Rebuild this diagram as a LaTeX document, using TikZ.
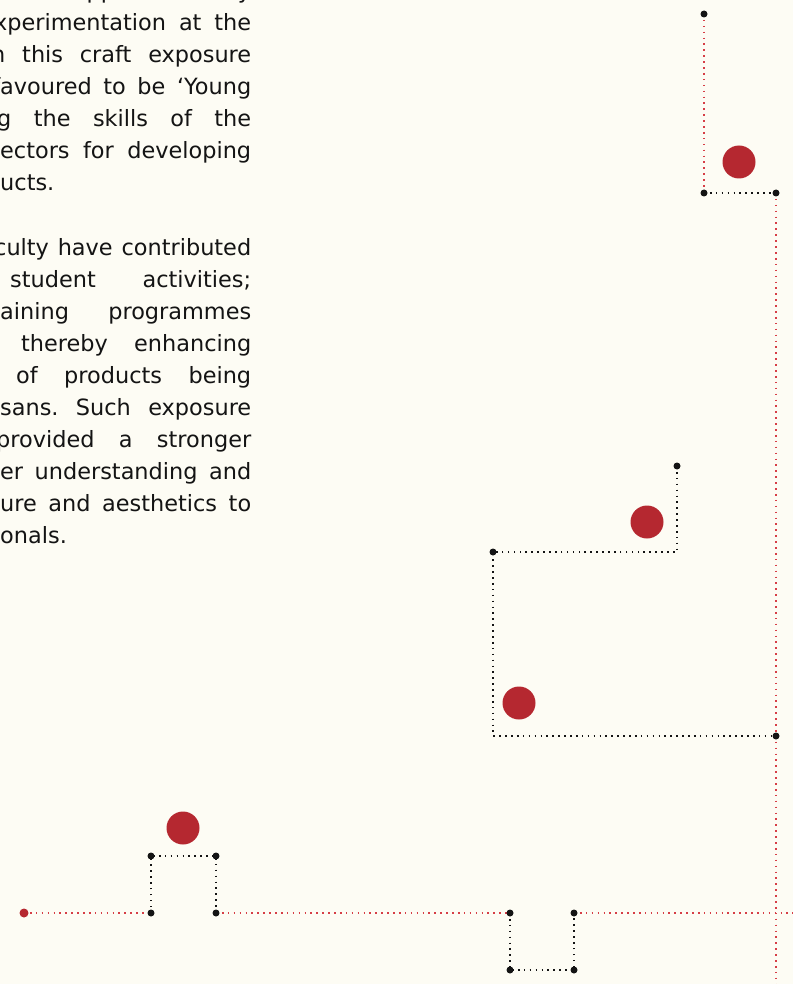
\documentclass[tikz,border=0pt]{standalone}
\usepackage{fontspec}
\setmainfont{DejaVu Sans}
\usetikzlibrary{backgrounds}
\definecolor{paper}{RGB}{253,252,244}
\definecolor{ink}{RGB}{20,20,20}
\definecolor{berry}{RGB}{181,40,48}
\definecolor{thread}{RGB}{214,62,70}
\frenchspacing
\begin{document}
\begin{tikzpicture}[x=1pt, y=-1pt,
    txt/.style={anchor=base west, inner sep=0pt, text=ink, font=\fontsize{22.4}{32}\selectfont},
    dot/.style={circle, fill=ink, inner sep=0pt, minimum size=7pt},
    reddot/.style={circle, fill=berry, inner sep=0pt, minimum size=9pt},
    bead/.style={circle, fill=berry, inner sep=0pt, minimum size=33pt},
    redline/.style={thread, line width=1.6pt, dash pattern=on 1.6pt off 4.3pt},
    blackline/.style={ink, line width=1.6pt, dash pattern=on 1.6pt off 4.3pt}]
    \useasboundingbox (0,0) rectangle (793,984);

    % text column, cut at the left edge
    \begin{scope}
    \clip (0,0) rectangle (793,984);
    \node[txt] (p0) at (0,-1) {\makebox[251pt][s]{\llap{wa}s supported by}};
    \node[txt] (p1a) at (-6,31) {\makebox[257pt][s]{\llap{e}xperimentation at the}};
    \node[txt] (p1b) at (-9,63) {\makebox[260pt][s]{n this craft exposure}};
    \node[txt] (p1c) at (0,95) {\makebox[251pt][s]{\llap{f}avoured to be `Young}};
    \node[txt] (p1d) at (-3,127) {\makebox[254pt][s]{g the skills of the}};
    \node[txt] (p1e) at (0,159) {\makebox[251pt][s]{\llap{s}ectors for developing}};
    \node[txt] (p1f) at (0,191) {\llap{prod}ucts.};

    \node[txt] (p2a) at (-6,255) {\makebox[257pt][s]{\llap{fa}culty have contributed}};
    \node[txt] (p2b) at (10,287) {\makebox[241pt][s]{student activities;}};
    \node[txt] (p2c) at (0,319) {\makebox[251pt][s]{\llap{tr}aining programmes}};
    \node[txt] (p2d) at (21,351) {\makebox[230pt][s]{thereby enhancing}};
    \node[txt] (p2e) at (16,383) {\makebox[235pt][s]{of products being}};
    \node[txt] (p2f) at (0,415) {\makebox[251pt][s]{\llap{arti}sans. Such exposure}};
    \node[txt] (p2g) at (-4,447) {\makebox[255pt][s]{provided a stronger}};
    \node[txt] (p2h) at (0,479) {\makebox[251pt][s]{\llap{bett}er understanding and}};
    \node[txt] (p2i) at (0,511) {\makebox[251pt][s]{\llap{cult}ure and aesthetics to}};
    \node[txt] (p2j) at (0,543) {\llap{professi}onals.};
    \end{scope}

    % top right
    \node[dot] (t1) at (704,14) {};
    \node[dot] (t2) at (704,193) {};
    \node[dot] (t3) at (776,193) {};
    \coordinate (tend) at (776,984);
    \node[bead] (bt) at (739,162) {};

    % middle
    \node[dot] (m1) at (677,466) {};
    \coordinate (m2) at (677,552);
    \node[dot] (m3) at (493,552) {};
    \coordinate (m4) at (493,736);
    \node[dot] (m5) at (776,736) {};
    \node[bead] (bm1) at (647,522) {};
    \node[bead] (bm2) at (519,703) {};

    % bottom
    \node[reddot] (s) at (24,913) {};
    \node[dot] (b1) at (151,913) {};
    \node[dot] (b2) at (151,856) {};
    \node[dot] (b3) at (216,856) {};
    \node[dot] (b4) at (216,913) {};
    \node[dot] (b5) at (510,913) {};
    \node[dot] (b6) at (510,970) {};
    \node[dot] (b7) at (574,970) {};
    \node[dot] (b8) at (574,913) {};
    \coordinate (bend) at (793,913);
    \node[bead] (bb) at (183,828) {};

    \begin{scope}[on background layer]
    \fill[paper] (0,0) rectangle (793,984);
    \draw[redline] (t1.center) -- (t2.center);
    \draw[blackline] (t2.center) -- (t3.center);
    \draw[redline] (t3.center) -- (tend);
    \draw[blackline] (m1.center) -- (m2) -- (m3.center) -- (m4) -- (m5.center);
    \draw[redline] (s.center) -- (b1.center);
    \draw[blackline] (b1.center) -- (b2.center) -- (b3.center) -- (b4.center);
    \draw[redline] (b4.center) -- (b5.center);
    \draw[blackline] (b5.center) -- (b6.center) -- (b7.center) -- (b8.center);
    \draw[redline] (b8.center) -- (bend);
    \end{scope}
\end{tikzpicture}
\end{document}
